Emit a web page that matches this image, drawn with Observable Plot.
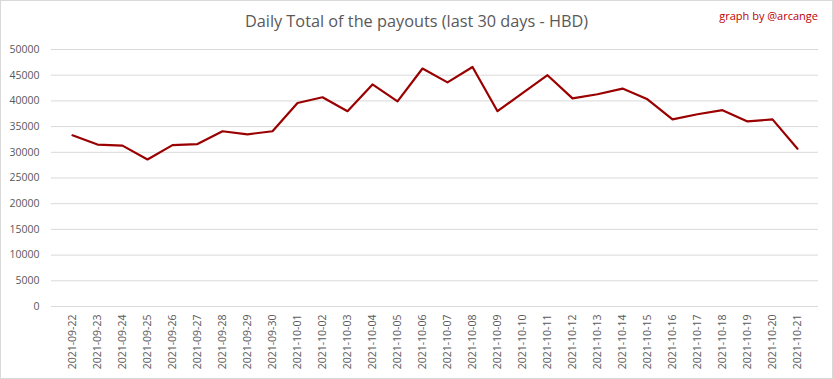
<!DOCTYPE html>
<html>
<head>
<meta charset="utf-8">
<script src="https://cdn.jsdelivr.net/npm/d3@7"></script>
<script src="https://cdn.jsdelivr.net/npm/@observablehq/plot@0.6"></script>
<style>
  html, body { margin: 0; padding: 0; background: #fff; }
  #wrap { position: relative; width: 833px; height: 379px; box-sizing: border-box; }
  #frame { position: absolute; left: 0; top: 0; width: 833px; height: 379px; box-sizing: border-box; border: 1px solid #d9d9d9; pointer-events: none; }
  #title { position: absolute; left: 0; width: 833px; top: 10px; text-align: center; font-family: "Open Sans", sans-serif; font-size: 16.3px; color: #595959; }
  #credit { position: absolute; right: 15px; top: 8px; font-family: "Open Sans", sans-serif; font-size: 11px; color: #c00000; }
  svg { position: absolute; left: 0; top: 0; }
</style>
</head>
<body>
<div id="wrap">
  <div id="chart"></div>
  <div id="title">Daily Total of the payouts (last 30 days - HBD)</div>
  <div id="credit">graph by @arcange</div>
  <div id="frame"></div>
</div>
<script>
const dates = [
  "2021-09-22","2021-09-23","2021-09-24","2021-09-25","2021-09-26","2021-09-27",
  "2021-09-28","2021-09-29","2021-09-30","2021-10-01","2021-10-02","2021-10-03",
  "2021-10-04","2021-10-05","2021-10-06","2021-10-07","2021-10-08","2021-10-09",
  "2021-10-10","2021-10-11","2021-10-12","2021-10-13","2021-10-14","2021-10-15",
  "2021-10-16","2021-10-17","2021-10-18","2021-10-19","2021-10-20","2021-10-21"
];
const payouts = [
  33300, 31500, 31300, 28600, 31400, 31600,
  34100, 33500, 34100, 39600, 40700, 38000,
  43200, 39900, 46300, 43600, 46600, 38000,
  41500, 45000, 40500, 41300, 42400, 40300,
  36400, 37400, 38200, 36000, 36400, 30700
];
const yTicks = [0, 5000, 10000, 15000, 20000, 25000, 30000, 35000, 40000, 45000, 50000];

const data = dates.map((d, i) => ({date: d, value: payouts[i]}));

const plot = Plot.plot({
  width: 833,
  height: 379,
  marginLeft: 51,
  marginRight: 15,
  marginTop: 49,
  marginBottom: 73,
  style: {fontFamily: "'Open Sans', sans-serif", fontSize: "10.5px", color: "#595959", background: "transparent"},
  x: {type: "point", domain: dates, range: [64, 805], padding: 0, label: null},
  y: {domain: [0, 50000], label: null},
  marks: [
    Plot.gridY(yTicks, {stroke: "#d9d9d9", strokeOpacity: 1, strokeWidth: 1}),
    Plot.axisY(yTicks, {tickSize: 0, tickPadding: 12, tickFormat: d => String(d), fill: "#595959", label: null}),
    Plot.axisX({tickSize: 0, tickPadding: 8, tickRotate: -90, fill: "#595959", label: null}),
    Plot.line(data, {x: "date", y: "value", stroke: "#9a0000", strokeWidth: 2.2, curve: "linear"})
  ]
});
document.getElementById("chart").appendChild(plot);
</script>
</body>
</html>
